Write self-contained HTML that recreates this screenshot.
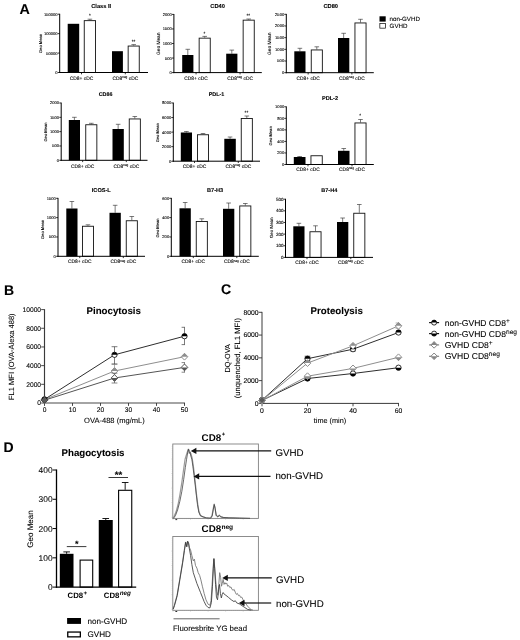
<!DOCTYPE html>
<html lang="en"><head><meta charset="utf-8"><title>Figure</title>
<style>html,body{margin:0;padding:0;background:#fff}svg{display:block}</style></head>
<body>
<svg width="520" height="640" viewBox="0 0 520 640" font-family="Liberation Sans, Arial, sans-serif" text-rendering="geometricPrecision">
<rect width="520" height="640" fill="#fff"/>
<g>
<text x="19.40" y="14.40" font-size="14.3" text-anchor="start" font-weight="bold" fill="#000" stroke="#000" stroke-width="0.08" >A</text>
<text x="4.00" y="294.70" font-size="14" text-anchor="start" font-weight="bold" fill="#000" stroke="#000" stroke-width="0.08" >B</text>
<text x="220.90" y="294.40" font-size="14" text-anchor="start" font-weight="bold" fill="#000" stroke="#000" stroke-width="0.08" >C</text>
<text x="3.40" y="451.60" font-size="14" text-anchor="start" font-weight="bold" fill="#000" stroke="#000" stroke-width="0.08" >D</text>
<rect x="67.70" y="23.80" width="11.50" height="48.70" fill="#000"/>
<line x1="89.90" y1="20.20" x2="89.90" y2="19.20" stroke="#333" stroke-width="0.65" />
<line x1="87.60" y1="19.20" x2="92.20" y2="19.20" stroke="#333" stroke-width="0.65" />
<rect x="84.25" y="20.65" width="11.30" height="51.85" fill="#fff" stroke="#111" stroke-width="0.9"/>
<rect x="112.00" y="51.20" width="10.90" height="21.30" fill="#000"/>
<line x1="133.70" y1="45.60" x2="133.70" y2="44.60" stroke="#333" stroke-width="0.65" />
<line x1="131.40" y1="44.60" x2="136.00" y2="44.60" stroke="#333" stroke-width="0.65" />
<rect x="128.15" y="46.05" width="11.10" height="26.45" fill="#fff" stroke="#111" stroke-width="0.9"/>
<line x1="59.70" y1="13.80" x2="59.70" y2="73.00" stroke="#000" stroke-width="1.0" />
<line x1="59.20" y1="72.50" x2="148.00" y2="72.50" stroke="#000" stroke-width="1.0" />
<line x1="57.80" y1="14.20" x2="59.70" y2="14.20" stroke="#000" stroke-width="0.8" />
<text x="57.60" y="15.65" font-size="4.1" text-anchor="end" font-weight="normal" fill="#000" stroke="#000" stroke-width="0.10" >150000</text>
<line x1="57.80" y1="33.63" x2="59.70" y2="33.63" stroke="#000" stroke-width="0.8" />
<text x="57.60" y="35.08" font-size="4.1" text-anchor="end" font-weight="normal" fill="#000" stroke="#000" stroke-width="0.10" >100000</text>
<line x1="57.80" y1="53.07" x2="59.70" y2="53.07" stroke="#000" stroke-width="0.8" />
<text x="57.60" y="54.52" font-size="4.1" text-anchor="end" font-weight="normal" fill="#000" stroke="#000" stroke-width="0.10" >50000</text>
<line x1="57.80" y1="72.50" x2="59.70" y2="72.50" stroke="#000" stroke-width="0.8" />
<text x="57.60" y="73.95" font-size="4.1" text-anchor="end" font-weight="normal" fill="#000" stroke="#000" stroke-width="0.10" >0</text>
<line x1="81.50" y1="72.50" x2="81.50" y2="74.30" stroke="#000" stroke-width="0.8" />
<line x1="125.30" y1="72.50" x2="125.30" y2="74.30" stroke="#000" stroke-width="0.8" />
<text x="81.50" y="79.50" font-size="4.9" text-anchor="middle" font-weight="normal" fill="#000" stroke="#000" stroke-width="0.10" >CD8+ cDC</text>
<text x="125.30" y="79.50" font-size="4.9" text-anchor="middle" fill="#000" stroke="#000" stroke-width="0.1">CD8<tspan font-size="3.1" dy="-1.7">neg</tspan><tspan dy="1.7"> cDC</tspan></text>
<text x="101.20" y="7.90" font-size="5.7" text-anchor="middle" font-weight="bold" fill="#000" stroke="#000" stroke-width="0.10" >Class II</text>
<text transform="translate(41.90,43.50) rotate(-90)" font-size="4.1" text-anchor="middle" font-weight="normal" fill="#000" stroke="#000" stroke-width="0.10">Geo Mean</text>
<text x="89.90" y="17.20" font-size="4.6" text-anchor="middle" font-weight="normal" fill="#000" stroke="#000" stroke-width="0.10" >*</text>
<text x="133.50" y="42.60" font-size="4.6" text-anchor="middle" font-weight="normal" fill="#000" stroke="#000" stroke-width="0.10" >**</text>
<line x1="187.80" y1="55.00" x2="187.80" y2="49.30" stroke="#333" stroke-width="0.65" />
<line x1="185.50" y1="49.30" x2="190.10" y2="49.30" stroke="#333" stroke-width="0.65" />
<rect x="182.20" y="55.00" width="11.20" height="17.60" fill="#000"/>
<line x1="204.70" y1="37.70" x2="204.70" y2="36.40" stroke="#333" stroke-width="0.65" />
<line x1="202.40" y1="36.40" x2="207.00" y2="36.40" stroke="#333" stroke-width="0.65" />
<rect x="199.15" y="38.15" width="11.10" height="34.45" fill="#fff" stroke="#111" stroke-width="0.9"/>
<line x1="231.80" y1="53.70" x2="231.80" y2="50.10" stroke="#333" stroke-width="0.65" />
<line x1="229.50" y1="50.10" x2="234.10" y2="50.10" stroke="#333" stroke-width="0.65" />
<rect x="226.20" y="53.70" width="11.20" height="18.90" fill="#000"/>
<line x1="248.70" y1="19.70" x2="248.70" y2="19.00" stroke="#333" stroke-width="0.65" />
<line x1="246.40" y1="19.00" x2="251.00" y2="19.00" stroke="#333" stroke-width="0.65" />
<rect x="243.15" y="20.15" width="11.10" height="52.45" fill="#fff" stroke="#111" stroke-width="0.9"/>
<line x1="173.90" y1="14.00" x2="173.90" y2="73.10" stroke="#000" stroke-width="1.0" />
<line x1="173.40" y1="72.60" x2="261.80" y2="72.60" stroke="#000" stroke-width="1.0" />
<line x1="172.00" y1="14.40" x2="173.90" y2="14.40" stroke="#000" stroke-width="0.8" />
<text x="171.80" y="15.85" font-size="4.1" text-anchor="end" font-weight="normal" fill="#000" stroke="#000" stroke-width="0.10" >2000</text>
<line x1="172.00" y1="28.95" x2="173.90" y2="28.95" stroke="#000" stroke-width="0.8" />
<text x="171.80" y="30.40" font-size="4.1" text-anchor="end" font-weight="normal" fill="#000" stroke="#000" stroke-width="0.10" >1500</text>
<line x1="172.00" y1="43.50" x2="173.90" y2="43.50" stroke="#000" stroke-width="0.8" />
<text x="171.80" y="44.95" font-size="4.1" text-anchor="end" font-weight="normal" fill="#000" stroke="#000" stroke-width="0.10" >1000</text>
<line x1="172.00" y1="58.05" x2="173.90" y2="58.05" stroke="#000" stroke-width="0.8" />
<text x="171.80" y="59.50" font-size="4.1" text-anchor="end" font-weight="normal" fill="#000" stroke="#000" stroke-width="0.10" >500</text>
<line x1="172.00" y1="72.60" x2="173.90" y2="72.60" stroke="#000" stroke-width="0.8" />
<text x="171.80" y="74.05" font-size="4.1" text-anchor="end" font-weight="normal" fill="#000" stroke="#000" stroke-width="0.10" >0</text>
<line x1="196.05" y1="72.60" x2="196.05" y2="74.40" stroke="#000" stroke-width="0.8" />
<line x1="240.05" y1="72.60" x2="240.05" y2="74.40" stroke="#000" stroke-width="0.8" />
<text x="196.05" y="79.50" font-size="4.9" text-anchor="middle" font-weight="normal" fill="#000" stroke="#000" stroke-width="0.10" >CD8+ cDC</text>
<text x="240.05" y="79.50" font-size="4.9" text-anchor="middle" fill="#000" stroke="#000" stroke-width="0.1">CD8<tspan font-size="3.1" dy="-1.7">neg</tspan><tspan dy="1.7"> cDC</tspan></text>
<text x="217.60" y="7.90" font-size="5.7" text-anchor="middle" font-weight="bold" fill="#000" stroke="#000" stroke-width="0.10" >CD40</text>
<text transform="translate(159.60,43.80) rotate(-90)" font-size="4.8" text-anchor="middle" font-weight="normal" fill="#000" stroke="#000" stroke-width="0.10">Geo Mean</text>
<text x="204.30" y="34.80" font-size="4.6" text-anchor="middle" font-weight="normal" fill="#000" stroke="#000" stroke-width="0.10" >*</text>
<text x="248.30" y="16.80" font-size="4.6" text-anchor="middle" font-weight="normal" fill="#000" stroke="#000" stroke-width="0.10" >**</text>
<line x1="299.90" y1="51.30" x2="299.90" y2="48.30" stroke="#333" stroke-width="0.65" />
<line x1="297.60" y1="48.30" x2="302.20" y2="48.30" stroke="#333" stroke-width="0.65" />
<rect x="294.30" y="51.30" width="11.20" height="21.40" fill="#000"/>
<line x1="316.80" y1="49.50" x2="316.80" y2="46.80" stroke="#333" stroke-width="0.65" />
<line x1="314.50" y1="46.80" x2="319.10" y2="46.80" stroke="#333" stroke-width="0.65" />
<rect x="311.25" y="49.95" width="11.10" height="22.75" fill="#fff" stroke="#111" stroke-width="0.9"/>
<line x1="343.65" y1="38.00" x2="343.65" y2="33.30" stroke="#333" stroke-width="0.65" />
<line x1="341.35" y1="33.30" x2="345.95" y2="33.30" stroke="#333" stroke-width="0.65" />
<rect x="338.00" y="38.00" width="11.30" height="34.70" fill="#000"/>
<line x1="360.50" y1="22.50" x2="360.50" y2="19.30" stroke="#333" stroke-width="0.65" />
<line x1="358.20" y1="19.30" x2="362.80" y2="19.30" stroke="#333" stroke-width="0.65" />
<rect x="354.95" y="22.95" width="11.10" height="49.75" fill="#fff" stroke="#111" stroke-width="0.9"/>
<line x1="286.30" y1="13.90" x2="286.30" y2="73.20" stroke="#000" stroke-width="1.0" />
<line x1="285.80" y1="72.70" x2="373.80" y2="72.70" stroke="#000" stroke-width="1.0" />
<line x1="284.40" y1="14.30" x2="286.30" y2="14.30" stroke="#000" stroke-width="0.8" />
<text x="284.20" y="15.75" font-size="4.1" text-anchor="end" font-weight="normal" fill="#000" stroke="#000" stroke-width="0.10" >2500</text>
<line x1="284.40" y1="25.98" x2="286.30" y2="25.98" stroke="#000" stroke-width="0.8" />
<text x="284.20" y="27.43" font-size="4.1" text-anchor="end" font-weight="normal" fill="#000" stroke="#000" stroke-width="0.10" >2000</text>
<line x1="284.40" y1="37.66" x2="286.30" y2="37.66" stroke="#000" stroke-width="0.8" />
<text x="284.20" y="39.11" font-size="4.1" text-anchor="end" font-weight="normal" fill="#000" stroke="#000" stroke-width="0.10" >1500</text>
<line x1="284.40" y1="49.34" x2="286.30" y2="49.34" stroke="#000" stroke-width="0.8" />
<text x="284.20" y="50.79" font-size="4.1" text-anchor="end" font-weight="normal" fill="#000" stroke="#000" stroke-width="0.10" >1000</text>
<line x1="284.40" y1="61.02" x2="286.30" y2="61.02" stroke="#000" stroke-width="0.8" />
<text x="284.20" y="62.47" font-size="4.1" text-anchor="end" font-weight="normal" fill="#000" stroke="#000" stroke-width="0.10" >500</text>
<line x1="284.40" y1="72.70" x2="286.30" y2="72.70" stroke="#000" stroke-width="0.8" />
<text x="284.20" y="74.15" font-size="4.1" text-anchor="end" font-weight="normal" fill="#000" stroke="#000" stroke-width="0.10" >0</text>
<line x1="308.15" y1="72.70" x2="308.15" y2="74.50" stroke="#000" stroke-width="0.8" />
<line x1="351.90" y1="72.70" x2="351.90" y2="74.50" stroke="#000" stroke-width="0.8" />
<text x="308.15" y="79.50" font-size="4.9" text-anchor="middle" font-weight="normal" fill="#000" stroke="#000" stroke-width="0.10" >CD8+ cDC</text>
<text x="351.90" y="79.50" font-size="4.9" text-anchor="middle" fill="#000" stroke="#000" stroke-width="0.1">CD8<tspan font-size="3.1" dy="-1.7">neg</tspan><tspan dy="1.7"> cDC</tspan></text>
<text x="330.70" y="7.85" font-size="5.7" text-anchor="middle" font-weight="bold" fill="#000" stroke="#000" stroke-width="0.10" >CD80</text>
<text transform="translate(271.35,43.80) rotate(-90)" font-size="4.8" text-anchor="middle" font-weight="normal" fill="#000" stroke="#000" stroke-width="0.10">Geo Mean</text>
<line x1="74.40" y1="120.00" x2="74.40" y2="117.30" stroke="#333" stroke-width="0.65" />
<line x1="72.10" y1="117.30" x2="76.70" y2="117.30" stroke="#333" stroke-width="0.65" />
<rect x="68.80" y="120.00" width="11.20" height="40.30" fill="#000"/>
<line x1="91.30" y1="124.30" x2="91.30" y2="123.30" stroke="#333" stroke-width="0.65" />
<line x1="89.00" y1="123.30" x2="93.60" y2="123.30" stroke="#333" stroke-width="0.65" />
<rect x="85.75" y="124.75" width="11.10" height="35.55" fill="#fff" stroke="#111" stroke-width="0.9"/>
<line x1="118.15" y1="129.00" x2="118.15" y2="124.30" stroke="#333" stroke-width="0.65" />
<line x1="115.85" y1="124.30" x2="120.45" y2="124.30" stroke="#333" stroke-width="0.65" />
<rect x="112.50" y="129.00" width="11.30" height="31.30" fill="#000"/>
<line x1="134.80" y1="118.50" x2="134.80" y2="116.50" stroke="#333" stroke-width="0.65" />
<line x1="132.50" y1="116.50" x2="137.10" y2="116.50" stroke="#333" stroke-width="0.65" />
<rect x="129.25" y="118.95" width="11.10" height="41.35" fill="#fff" stroke="#111" stroke-width="0.9"/>
<line x1="61.20" y1="102.60" x2="61.20" y2="160.80" stroke="#000" stroke-width="1.0" />
<line x1="60.70" y1="160.30" x2="147.50" y2="160.30" stroke="#000" stroke-width="1.0" />
<line x1="59.30" y1="103.00" x2="61.20" y2="103.00" stroke="#000" stroke-width="0.8" />
<text x="59.10" y="104.45" font-size="4.1" text-anchor="end" font-weight="normal" fill="#000" stroke="#000" stroke-width="0.10" >2000</text>
<line x1="59.30" y1="117.33" x2="61.20" y2="117.33" stroke="#000" stroke-width="0.8" />
<text x="59.10" y="118.78" font-size="4.1" text-anchor="end" font-weight="normal" fill="#000" stroke="#000" stroke-width="0.10" >1500</text>
<line x1="59.30" y1="131.65" x2="61.20" y2="131.65" stroke="#000" stroke-width="0.8" />
<text x="59.10" y="133.10" font-size="4.1" text-anchor="end" font-weight="normal" fill="#000" stroke="#000" stroke-width="0.10" >1000</text>
<line x1="59.30" y1="145.98" x2="61.20" y2="145.98" stroke="#000" stroke-width="0.8" />
<text x="59.10" y="147.43" font-size="4.1" text-anchor="end" font-weight="normal" fill="#000" stroke="#000" stroke-width="0.10" >500</text>
<line x1="59.30" y1="160.30" x2="61.20" y2="160.30" stroke="#000" stroke-width="0.8" />
<text x="59.10" y="161.75" font-size="4.1" text-anchor="end" font-weight="normal" fill="#000" stroke="#000" stroke-width="0.10" >0</text>
<line x1="82.65" y1="160.30" x2="82.65" y2="162.10" stroke="#000" stroke-width="0.8" />
<line x1="126.30" y1="160.30" x2="126.30" y2="162.10" stroke="#000" stroke-width="0.8" />
<text x="82.65" y="167.60" font-size="4.9" text-anchor="middle" font-weight="normal" fill="#000" stroke="#000" stroke-width="0.10" >CD8+ cDC</text>
<text x="126.30" y="167.60" font-size="4.9" text-anchor="middle" fill="#000" stroke="#000" stroke-width="0.1">CD8<tspan font-size="3.1" dy="-1.7">neg</tspan><tspan dy="1.7"> cDC</tspan></text>
<text x="105.60" y="96.30" font-size="5.4" text-anchor="middle" font-weight="bold" fill="#000" stroke="#000" stroke-width="0.10" >CD86</text>
<text transform="translate(46.50,132.00) rotate(-90)" font-size="4.1" text-anchor="middle" font-weight="normal" fill="#000" stroke="#000" stroke-width="0.10">Geo Mean</text>
<line x1="186.40" y1="132.50" x2="186.40" y2="131.50" stroke="#333" stroke-width="0.65" />
<line x1="184.10" y1="131.50" x2="188.70" y2="131.50" stroke="#333" stroke-width="0.65" />
<rect x="180.80" y="132.50" width="11.20" height="28.70" fill="#000"/>
<line x1="203.00" y1="134.30" x2="203.00" y2="133.50" stroke="#333" stroke-width="0.65" />
<line x1="200.70" y1="133.50" x2="205.30" y2="133.50" stroke="#333" stroke-width="0.65" />
<rect x="197.45" y="134.75" width="11.10" height="26.45" fill="#fff" stroke="#111" stroke-width="0.9"/>
<line x1="230.05" y1="138.80" x2="230.05" y2="137.00" stroke="#333" stroke-width="0.65" />
<line x1="227.75" y1="137.00" x2="232.35" y2="137.00" stroke="#333" stroke-width="0.65" />
<rect x="224.30" y="138.80" width="11.50" height="22.40" fill="#000"/>
<line x1="246.80" y1="118.00" x2="246.80" y2="116.00" stroke="#333" stroke-width="0.65" />
<line x1="244.50" y1="116.00" x2="249.10" y2="116.00" stroke="#333" stroke-width="0.65" />
<rect x="241.25" y="118.45" width="11.10" height="42.75" fill="#fff" stroke="#111" stroke-width="0.9"/>
<line x1="173.30" y1="102.60" x2="173.30" y2="161.70" stroke="#000" stroke-width="1.0" />
<line x1="172.80" y1="161.20" x2="260.00" y2="161.20" stroke="#000" stroke-width="1.0" />
<line x1="171.40" y1="103.00" x2="173.30" y2="103.00" stroke="#000" stroke-width="0.8" />
<text x="171.20" y="104.45" font-size="4.1" text-anchor="end" font-weight="normal" fill="#000" stroke="#000" stroke-width="0.10" >8000</text>
<line x1="171.40" y1="117.55" x2="173.30" y2="117.55" stroke="#000" stroke-width="0.8" />
<text x="171.20" y="119.00" font-size="4.1" text-anchor="end" font-weight="normal" fill="#000" stroke="#000" stroke-width="0.10" >6000</text>
<line x1="171.40" y1="132.10" x2="173.30" y2="132.10" stroke="#000" stroke-width="0.8" />
<text x="171.20" y="133.55" font-size="4.1" text-anchor="end" font-weight="normal" fill="#000" stroke="#000" stroke-width="0.10" >4000</text>
<line x1="171.40" y1="146.65" x2="173.30" y2="146.65" stroke="#000" stroke-width="0.8" />
<text x="171.20" y="148.10" font-size="4.1" text-anchor="end" font-weight="normal" fill="#000" stroke="#000" stroke-width="0.10" >2000</text>
<line x1="171.40" y1="161.20" x2="173.30" y2="161.20" stroke="#000" stroke-width="0.8" />
<text x="171.20" y="162.65" font-size="4.1" text-anchor="end" font-weight="normal" fill="#000" stroke="#000" stroke-width="0.10" >0</text>
<line x1="194.50" y1="161.20" x2="194.50" y2="163.00" stroke="#000" stroke-width="0.8" />
<line x1="238.30" y1="161.20" x2="238.30" y2="163.00" stroke="#000" stroke-width="0.8" />
<text x="194.50" y="168.10" font-size="4.9" text-anchor="middle" font-weight="normal" fill="#000" stroke="#000" stroke-width="0.10" >CD8+ cDC</text>
<text x="238.30" y="168.10" font-size="4.9" text-anchor="middle" fill="#000" stroke="#000" stroke-width="0.1">CD8<tspan font-size="3.1" dy="-1.7">neg</tspan><tspan dy="1.7"> cDC</tspan></text>
<text x="216.50" y="96.20" font-size="5.4" text-anchor="middle" font-weight="bold" fill="#000" stroke="#000" stroke-width="0.10" >PDL-1</text>
<text transform="translate(158.90,132.80) rotate(-90)" font-size="4.1" text-anchor="middle" font-weight="normal" fill="#000" stroke="#000" stroke-width="0.10">Geo Mean</text>
<text x="246.40" y="114.20" font-size="4.6" text-anchor="middle" font-weight="normal" fill="#000" stroke="#000" stroke-width="0.10" >**</text>
<line x1="299.65" y1="157.00" x2="299.65" y2="156.50" stroke="#333" stroke-width="0.65" />
<line x1="297.35" y1="156.50" x2="301.95" y2="156.50" stroke="#333" stroke-width="0.65" />
<rect x="293.80" y="157.00" width="11.70" height="7.50" fill="#000"/>
<rect x="310.95" y="155.75" width="11.30" height="8.75" fill="#fff" stroke="#111" stroke-width="0.9"/>
<line x1="343.75" y1="150.80" x2="343.75" y2="148.50" stroke="#333" stroke-width="0.65" />
<line x1="341.45" y1="148.50" x2="346.05" y2="148.50" stroke="#333" stroke-width="0.65" />
<rect x="338.00" y="150.80" width="11.50" height="13.70" fill="#000"/>
<line x1="360.50" y1="122.50" x2="360.50" y2="119.50" stroke="#333" stroke-width="0.65" />
<line x1="358.20" y1="119.50" x2="362.80" y2="119.50" stroke="#333" stroke-width="0.65" />
<rect x="354.95" y="122.95" width="11.10" height="41.55" fill="#fff" stroke="#111" stroke-width="0.9"/>
<line x1="286.30" y1="106.40" x2="286.30" y2="165.00" stroke="#000" stroke-width="1.0" />
<line x1="285.80" y1="164.50" x2="373.80" y2="164.50" stroke="#000" stroke-width="1.0" />
<line x1="284.40" y1="106.80" x2="286.30" y2="106.80" stroke="#000" stroke-width="0.8" />
<text x="284.20" y="108.25" font-size="4.1" text-anchor="end" font-weight="normal" fill="#000" stroke="#000" stroke-width="0.10" >1000</text>
<line x1="284.40" y1="118.34" x2="286.30" y2="118.34" stroke="#000" stroke-width="0.8" />
<text x="284.20" y="119.79" font-size="4.1" text-anchor="end" font-weight="normal" fill="#000" stroke="#000" stroke-width="0.10" >800</text>
<line x1="284.40" y1="129.88" x2="286.30" y2="129.88" stroke="#000" stroke-width="0.8" />
<text x="284.20" y="131.33" font-size="4.1" text-anchor="end" font-weight="normal" fill="#000" stroke="#000" stroke-width="0.10" >600</text>
<line x1="284.40" y1="141.42" x2="286.30" y2="141.42" stroke="#000" stroke-width="0.8" />
<text x="284.20" y="142.87" font-size="4.1" text-anchor="end" font-weight="normal" fill="#000" stroke="#000" stroke-width="0.10" >400</text>
<line x1="284.40" y1="152.96" x2="286.30" y2="152.96" stroke="#000" stroke-width="0.8" />
<text x="284.20" y="154.41" font-size="4.1" text-anchor="end" font-weight="normal" fill="#000" stroke="#000" stroke-width="0.10" >200</text>
<line x1="284.40" y1="164.50" x2="286.30" y2="164.50" stroke="#000" stroke-width="0.8" />
<text x="284.20" y="165.95" font-size="4.1" text-anchor="end" font-weight="normal" fill="#000" stroke="#000" stroke-width="0.10" >0</text>
<line x1="308.00" y1="164.50" x2="308.00" y2="166.30" stroke="#000" stroke-width="0.8" />
<line x1="352.00" y1="164.50" x2="352.00" y2="166.30" stroke="#000" stroke-width="0.8" />
<text x="308.00" y="170.80" font-size="4.9" text-anchor="middle" font-weight="normal" fill="#000" stroke="#000" stroke-width="0.10" >CD8+ cDC</text>
<text x="352.00" y="170.80" font-size="4.9" text-anchor="middle" fill="#000" stroke="#000" stroke-width="0.1">CD8<tspan font-size="3.1" dy="-1.7">neg</tspan><tspan dy="1.7"> cDC</tspan></text>
<text x="330.00" y="100.20" font-size="5.6" text-anchor="middle" font-weight="bold" fill="#000" stroke="#000" stroke-width="0.10" >PDL-2</text>
<text transform="translate(272.10,135.90) rotate(-90)" font-size="4.1" text-anchor="middle" font-weight="normal" fill="#000" stroke="#000" stroke-width="0.10">Geo Mean</text>
<text x="360.20" y="117.30" font-size="4.6" text-anchor="middle" font-weight="normal" fill="#000" stroke="#000" stroke-width="0.10" >*</text>
<line x1="71.90" y1="208.50" x2="71.90" y2="201.50" stroke="#333" stroke-width="0.65" />
<line x1="69.60" y1="201.50" x2="74.20" y2="201.50" stroke="#333" stroke-width="0.65" />
<rect x="66.30" y="208.50" width="11.20" height="47.80" fill="#000"/>
<line x1="87.95" y1="225.80" x2="87.95" y2="224.80" stroke="#333" stroke-width="0.65" />
<line x1="85.65" y1="224.80" x2="90.25" y2="224.80" stroke="#333" stroke-width="0.65" />
<rect x="82.45" y="226.25" width="11.00" height="30.05" fill="#fff" stroke="#111" stroke-width="0.9"/>
<line x1="115.15" y1="212.80" x2="115.15" y2="205.30" stroke="#333" stroke-width="0.65" />
<line x1="112.85" y1="205.30" x2="117.45" y2="205.30" stroke="#333" stroke-width="0.65" />
<rect x="109.50" y="212.80" width="11.30" height="43.50" fill="#000"/>
<line x1="131.80" y1="220.30" x2="131.80" y2="216.50" stroke="#333" stroke-width="0.65" />
<line x1="129.50" y1="216.50" x2="134.10" y2="216.50" stroke="#333" stroke-width="0.65" />
<rect x="126.25" y="220.75" width="11.10" height="35.55" fill="#fff" stroke="#111" stroke-width="0.9"/>
<line x1="58.00" y1="197.90" x2="58.00" y2="256.80" stroke="#000" stroke-width="1.0" />
<line x1="57.50" y1="256.30" x2="145.00" y2="256.30" stroke="#000" stroke-width="1.0" />
<line x1="56.10" y1="198.30" x2="58.00" y2="198.30" stroke="#000" stroke-width="0.8" />
<text x="55.90" y="199.75" font-size="4.1" text-anchor="end" font-weight="normal" fill="#000" stroke="#000" stroke-width="0.10" >1500</text>
<line x1="56.10" y1="217.63" x2="58.00" y2="217.63" stroke="#000" stroke-width="0.8" />
<text x="55.90" y="219.08" font-size="4.1" text-anchor="end" font-weight="normal" fill="#000" stroke="#000" stroke-width="0.10" >1000</text>
<line x1="56.10" y1="236.97" x2="58.00" y2="236.97" stroke="#000" stroke-width="0.8" />
<text x="55.90" y="238.42" font-size="4.1" text-anchor="end" font-weight="normal" fill="#000" stroke="#000" stroke-width="0.10" >500</text>
<line x1="56.10" y1="256.30" x2="58.00" y2="256.30" stroke="#000" stroke-width="0.8" />
<text x="55.90" y="257.75" font-size="4.1" text-anchor="end" font-weight="normal" fill="#000" stroke="#000" stroke-width="0.10" >0</text>
<line x1="79.75" y1="256.30" x2="79.75" y2="258.10" stroke="#000" stroke-width="0.8" />
<line x1="123.30" y1="256.30" x2="123.30" y2="258.10" stroke="#000" stroke-width="0.8" />
<text x="79.75" y="263.40" font-size="4.9" text-anchor="middle" font-weight="normal" fill="#000" stroke="#000" stroke-width="0.10" >CD8+ cDC</text>
<text x="123.30" y="263.40" font-size="4.9" text-anchor="middle" fill="#000" stroke="#000" stroke-width="0.1">CD8<tspan font-size="3.1" dy="-1.7">neg</tspan><tspan dy="1.7"> cDC</tspan></text>
<text x="101.30" y="192.40" font-size="5.6" text-anchor="middle" font-weight="bold" fill="#000" stroke="#000" stroke-width="0.10" >ICOS-L</text>
<text transform="translate(43.60,229.50) rotate(-90)" font-size="4.1" text-anchor="middle" font-weight="normal" fill="#000" stroke="#000" stroke-width="0.10">Geo Mean</text>
<line x1="185.15" y1="208.30" x2="185.15" y2="202.50" stroke="#333" stroke-width="0.65" />
<line x1="182.85" y1="202.50" x2="187.45" y2="202.50" stroke="#333" stroke-width="0.65" />
<rect x="179.50" y="208.30" width="11.30" height="48.00" fill="#000"/>
<line x1="201.80" y1="221.00" x2="201.80" y2="218.80" stroke="#333" stroke-width="0.65" />
<line x1="199.50" y1="218.80" x2="204.10" y2="218.80" stroke="#333" stroke-width="0.65" />
<rect x="196.25" y="221.45" width="11.10" height="34.85" fill="#fff" stroke="#111" stroke-width="0.9"/>
<line x1="228.65" y1="208.80" x2="228.65" y2="203.00" stroke="#333" stroke-width="0.65" />
<line x1="226.35" y1="203.00" x2="230.95" y2="203.00" stroke="#333" stroke-width="0.65" />
<rect x="223.00" y="208.80" width="11.30" height="47.50" fill="#000"/>
<line x1="245.30" y1="205.50" x2="245.30" y2="203.50" stroke="#333" stroke-width="0.65" />
<line x1="243.00" y1="203.50" x2="247.60" y2="203.50" stroke="#333" stroke-width="0.65" />
<rect x="239.75" y="205.95" width="11.10" height="50.35" fill="#fff" stroke="#111" stroke-width="0.9"/>
<line x1="171.30" y1="197.90" x2="171.30" y2="256.80" stroke="#000" stroke-width="1.0" />
<line x1="170.80" y1="256.30" x2="258.80" y2="256.30" stroke="#000" stroke-width="1.0" />
<line x1="169.40" y1="198.30" x2="171.30" y2="198.30" stroke="#000" stroke-width="0.8" />
<text x="169.20" y="199.75" font-size="4.1" text-anchor="end" font-weight="normal" fill="#000" stroke="#000" stroke-width="0.10" >600</text>
<line x1="169.40" y1="217.63" x2="171.30" y2="217.63" stroke="#000" stroke-width="0.8" />
<text x="169.20" y="219.08" font-size="4.1" text-anchor="end" font-weight="normal" fill="#000" stroke="#000" stroke-width="0.10" >400</text>
<line x1="169.40" y1="236.97" x2="171.30" y2="236.97" stroke="#000" stroke-width="0.8" />
<text x="169.20" y="238.42" font-size="4.1" text-anchor="end" font-weight="normal" fill="#000" stroke="#000" stroke-width="0.10" >200</text>
<line x1="169.40" y1="256.30" x2="171.30" y2="256.30" stroke="#000" stroke-width="0.8" />
<text x="169.20" y="257.75" font-size="4.1" text-anchor="end" font-weight="normal" fill="#000" stroke="#000" stroke-width="0.10" >0</text>
<line x1="193.30" y1="256.30" x2="193.30" y2="258.10" stroke="#000" stroke-width="0.8" />
<line x1="236.80" y1="256.30" x2="236.80" y2="258.10" stroke="#000" stroke-width="0.8" />
<text x="193.30" y="263.40" font-size="4.9" text-anchor="middle" font-weight="normal" fill="#000" stroke="#000" stroke-width="0.10" >CD8+ cDC</text>
<text x="236.80" y="263.40" font-size="4.9" text-anchor="middle" fill="#000" stroke="#000" stroke-width="0.1">CD8<tspan font-size="3.1" dy="-1.7">neg</tspan><tspan dy="1.7"> cDC</tspan></text>
<text x="215.10" y="192.40" font-size="5.6" text-anchor="middle" font-weight="bold" fill="#000" stroke="#000" stroke-width="0.10" >B7-H3</text>
<text transform="translate(159.30,228.00) rotate(-90)" font-size="4.1" text-anchor="middle" font-weight="normal" fill="#000" stroke="#000" stroke-width="0.10">Geo Mean</text>
<line x1="298.90" y1="226.30" x2="298.90" y2="223.30" stroke="#333" stroke-width="0.65" />
<line x1="296.60" y1="223.30" x2="301.20" y2="223.30" stroke="#333" stroke-width="0.65" />
<rect x="293.30" y="226.30" width="11.20" height="31.10" fill="#000"/>
<line x1="315.50" y1="231.30" x2="315.50" y2="225.80" stroke="#333" stroke-width="0.65" />
<line x1="313.20" y1="225.80" x2="317.80" y2="225.80" stroke="#333" stroke-width="0.65" />
<rect x="309.95" y="231.75" width="11.10" height="25.65" fill="#fff" stroke="#111" stroke-width="0.9"/>
<line x1="342.65" y1="222.00" x2="342.65" y2="218.00" stroke="#333" stroke-width="0.65" />
<line x1="340.35" y1="218.00" x2="344.95" y2="218.00" stroke="#333" stroke-width="0.65" />
<rect x="337.00" y="222.00" width="11.30" height="35.40" fill="#000"/>
<line x1="359.30" y1="212.80" x2="359.30" y2="204.50" stroke="#333" stroke-width="0.65" />
<line x1="357.00" y1="204.50" x2="361.60" y2="204.50" stroke="#333" stroke-width="0.65" />
<rect x="353.75" y="213.25" width="11.10" height="44.15" fill="#fff" stroke="#111" stroke-width="0.9"/>
<line x1="285.50" y1="198.80" x2="285.50" y2="257.90" stroke="#000" stroke-width="1.0" />
<line x1="285.00" y1="257.40" x2="373.00" y2="257.40" stroke="#000" stroke-width="1.0" />
<line x1="283.60" y1="199.20" x2="285.50" y2="199.20" stroke="#000" stroke-width="0.8" />
<text x="283.40" y="200.65" font-size="4.5" text-anchor="end" font-weight="normal" fill="#000" stroke="#000" stroke-width="0.10" >500</text>
<line x1="283.60" y1="210.84" x2="285.50" y2="210.84" stroke="#000" stroke-width="0.8" />
<text x="283.40" y="212.29" font-size="4.5" text-anchor="end" font-weight="normal" fill="#000" stroke="#000" stroke-width="0.10" >400</text>
<line x1="283.60" y1="222.48" x2="285.50" y2="222.48" stroke="#000" stroke-width="0.8" />
<text x="283.40" y="223.93" font-size="4.5" text-anchor="end" font-weight="normal" fill="#000" stroke="#000" stroke-width="0.10" >300</text>
<line x1="283.60" y1="234.12" x2="285.50" y2="234.12" stroke="#000" stroke-width="0.8" />
<text x="283.40" y="235.57" font-size="4.5" text-anchor="end" font-weight="normal" fill="#000" stroke="#000" stroke-width="0.10" >200</text>
<line x1="283.60" y1="245.76" x2="285.50" y2="245.76" stroke="#000" stroke-width="0.8" />
<text x="283.40" y="247.21" font-size="4.5" text-anchor="end" font-weight="normal" fill="#000" stroke="#000" stroke-width="0.10" >100</text>
<line x1="283.60" y1="257.40" x2="285.50" y2="257.40" stroke="#000" stroke-width="0.8" />
<text x="283.40" y="258.85" font-size="4.5" text-anchor="end" font-weight="normal" fill="#000" stroke="#000" stroke-width="0.10" >0</text>
<line x1="307.00" y1="257.40" x2="307.00" y2="259.20" stroke="#000" stroke-width="0.8" />
<line x1="350.80" y1="257.40" x2="350.80" y2="259.20" stroke="#000" stroke-width="0.8" />
<text x="307.00" y="263.90" font-size="4.9" text-anchor="middle" font-weight="normal" fill="#000" stroke="#000" stroke-width="0.10" >CD8+ cDC</text>
<text x="350.80" y="263.90" font-size="4.9" text-anchor="middle" fill="#000" stroke="#000" stroke-width="0.1">CD8<tspan font-size="3.1" dy="-1.7">neg</tspan><tspan dy="1.7"> cDC</tspan></text>
<text x="329.30" y="192.40" font-size="5.5" text-anchor="middle" font-weight="bold" fill="#000" stroke="#000" stroke-width="0.10" >B7-H4</text>
<text transform="translate(273.10,227.80) rotate(-90)" font-size="4.4" text-anchor="middle" font-weight="normal" fill="#000" stroke="#000" stroke-width="0.10">Geo Mean</text>
<rect x="379.5" y="16.3" width="6.2" height="5.3" fill="#000"/>
<rect x="379.85" y="23.55" width="5.5" height="4.6" fill="#fff" stroke="#000" stroke-width="0.7"/>
<text x="389.60" y="21.30" font-size="6.2" text-anchor="start" font-weight="normal" fill="#000" stroke="#000" stroke-width="0.10" >non-GVHD</text>
<text x="389.60" y="27.90" font-size="6.2" text-anchor="start" font-weight="normal" fill="#000" stroke="#000" stroke-width="0.10" >GVHD</text>
<line x1="44.50" y1="309.20" x2="44.50" y2="403.60" stroke="#3a3a3a" stroke-width="1.15" />
<line x1="43.95" y1="403.00" x2="185.00" y2="403.00" stroke="#4a4a4a" stroke-width="1.2" />
<line x1="41.20" y1="309.60" x2="44.50" y2="309.60" stroke="#333" stroke-width="0.9" />
<text x="41.10" y="312.00" font-size="6.7" text-anchor="end" font-weight="normal" fill="#000" stroke="#000" stroke-width="0.10" >10000</text>
<line x1="41.20" y1="328.28" x2="44.50" y2="328.28" stroke="#333" stroke-width="0.9" />
<text x="41.10" y="330.68" font-size="6.7" text-anchor="end" font-weight="normal" fill="#000" stroke="#000" stroke-width="0.10" >8000</text>
<line x1="41.20" y1="346.96" x2="44.50" y2="346.96" stroke="#333" stroke-width="0.9" />
<text x="41.10" y="349.36" font-size="6.7" text-anchor="end" font-weight="normal" fill="#000" stroke="#000" stroke-width="0.10" >6000</text>
<line x1="41.20" y1="365.64" x2="44.50" y2="365.64" stroke="#333" stroke-width="0.9" />
<text x="41.10" y="368.04" font-size="6.7" text-anchor="end" font-weight="normal" fill="#000" stroke="#000" stroke-width="0.10" >4000</text>
<line x1="41.20" y1="384.32" x2="44.50" y2="384.32" stroke="#333" stroke-width="0.9" />
<text x="41.10" y="386.72" font-size="6.7" text-anchor="end" font-weight="normal" fill="#000" stroke="#000" stroke-width="0.10" >2000</text>
<line x1="41.20" y1="403.00" x2="44.50" y2="403.00" stroke="#333" stroke-width="0.9" />
<text x="41.10" y="405.40" font-size="6.7" text-anchor="end" font-weight="normal" fill="#000" stroke="#000" stroke-width="0.10" >0</text>
<line x1="44.50" y1="403.00" x2="44.50" y2="405.90" stroke="#333" stroke-width="0.9" />
<text x="44.50" y="412.00" font-size="6.7" text-anchor="middle" font-weight="normal" fill="#000" stroke="#000" stroke-width="0.10" >0</text>
<line x1="72.50" y1="403.00" x2="72.50" y2="405.90" stroke="#333" stroke-width="0.9" />
<text x="72.50" y="412.00" font-size="6.7" text-anchor="middle" font-weight="normal" fill="#000" stroke="#000" stroke-width="0.10" >10</text>
<line x1="100.50" y1="403.00" x2="100.50" y2="405.90" stroke="#333" stroke-width="0.9" />
<text x="100.50" y="412.00" font-size="6.7" text-anchor="middle" font-weight="normal" fill="#000" stroke="#000" stroke-width="0.10" >20</text>
<line x1="128.50" y1="403.00" x2="128.50" y2="405.90" stroke="#333" stroke-width="0.9" />
<text x="128.50" y="412.00" font-size="6.7" text-anchor="middle" font-weight="normal" fill="#000" stroke="#000" stroke-width="0.10" >30</text>
<line x1="156.50" y1="403.00" x2="156.50" y2="405.90" stroke="#333" stroke-width="0.9" />
<text x="156.50" y="412.00" font-size="6.7" text-anchor="middle" font-weight="normal" fill="#000" stroke="#000" stroke-width="0.10" >40</text>
<line x1="184.50" y1="403.00" x2="184.50" y2="405.90" stroke="#333" stroke-width="0.9" />
<text x="184.50" y="412.00" font-size="6.7" text-anchor="middle" font-weight="normal" fill="#000" stroke="#000" stroke-width="0.10" >50</text>
<text x="113.70" y="313.90" font-size="9.7" text-anchor="middle" font-weight="bold" fill="#000" stroke="#000" stroke-width="0.08" >Pinocytosis</text>
<text x="114.40" y="422.70" font-size="7.55" text-anchor="middle" font-weight="normal" fill="#000" stroke="#000" stroke-width="0.08" >OVA-488 (mg/mL)</text>
<text transform="translate(14.20,356.70) rotate(-90)" font-size="7.55" text-anchor="middle" font-weight="normal" fill="#000" stroke="#000" stroke-width="0.08">FL1 MFI (OVA-Alexa 488)</text>
<line x1="114.50" y1="364.20" x2="114.50" y2="377.50" stroke="#8e8e8e" stroke-width="0.7" />
<line x1="111.60" y1="364.20" x2="117.40" y2="364.20" stroke="#8e8e8e" stroke-width="0.7" />
<line x1="111.60" y1="377.50" x2="117.40" y2="377.50" stroke="#8e8e8e" stroke-width="0.7" />
<polyline points="44.50,399.60 114.50,371.00 184.50,356.70" fill="none" stroke="#8e8e8e" stroke-width="1.0" stroke-linejoin="round"/>
<path d="M41.20,399.60 L44.50,396.20 L47.80,399.60 L44.50,403.00 Z" fill="#fff" stroke="#8e8e8e" stroke-width="1.0"/>
<path d="M41.20,399.60 L44.50,396.20 L47.80,399.60 Z" fill="#8e8e8e"/>
<path d="M111.20,371.00 L114.50,367.60 L117.80,371.00 L114.50,374.40 Z" fill="#fff" stroke="#8e8e8e" stroke-width="1.0"/>
<path d="M111.20,371.00 L114.50,367.60 L117.80,371.00 Z" fill="#8e8e8e"/>
<path d="M181.20,356.70 L184.50,353.30 L187.80,356.70 L184.50,360.10 Z" fill="#fff" stroke="#8e8e8e" stroke-width="1.0"/>
<path d="M181.20,356.70 L184.50,353.30 L187.80,356.70 Z" fill="#8e8e8e"/>
<line x1="114.50" y1="373.20" x2="114.50" y2="383.00" stroke="#555555" stroke-width="0.7" />
<line x1="111.60" y1="373.20" x2="117.40" y2="373.20" stroke="#555555" stroke-width="0.7" />
<line x1="111.60" y1="383.00" x2="117.40" y2="383.00" stroke="#555555" stroke-width="0.7" />
<line x1="184.50" y1="362.60" x2="184.50" y2="372.20" stroke="#555555" stroke-width="0.7" />
<line x1="181.60" y1="362.60" x2="185.00" y2="362.60" stroke="#555555" stroke-width="0.7" />
<line x1="181.60" y1="372.20" x2="185.00" y2="372.20" stroke="#555555" stroke-width="0.7" />
<polyline points="44.50,400.20 114.50,378.00 184.50,367.40" fill="none" stroke="#555555" stroke-width="1.0" stroke-linejoin="round"/>
<path d="M41.20,400.20 L44.50,396.80 L47.80,400.20 L44.50,403.60 Z" fill="#fff" stroke="#555555" stroke-width="1.0"/>
<path d="M41.20,400.20 L44.50,403.60 L47.80,400.20 Z" fill="#555555"/>
<path d="M111.20,378.00 L114.50,374.60 L117.80,378.00 L114.50,381.40 Z" fill="#fff" stroke="#555555" stroke-width="1.0"/>
<path d="M111.20,378.00 L114.50,381.40 L117.80,378.00 Z" fill="#555555"/>
<path d="M181.20,367.40 L184.50,364.00 L187.80,367.40 L184.50,370.80 Z" fill="#fff" stroke="#555555" stroke-width="1.0"/>
<path d="M181.20,367.40 L184.50,370.80 L187.80,367.40 Z" fill="#555555"/>
<line x1="114.50" y1="346.70" x2="114.50" y2="364.00" stroke="#444" stroke-width="0.7" />
<line x1="111.60" y1="346.70" x2="117.40" y2="346.70" stroke="#444" stroke-width="0.7" />
<line x1="111.60" y1="364.00" x2="117.40" y2="364.00" stroke="#444" stroke-width="0.7" />
<line x1="184.50" y1="327.30" x2="184.50" y2="344.60" stroke="#444" stroke-width="0.7" />
<line x1="181.60" y1="327.30" x2="185.00" y2="327.30" stroke="#444" stroke-width="0.7" />
<line x1="181.60" y1="344.60" x2="185.00" y2="344.60" stroke="#444" stroke-width="0.7" />
<polyline points="44.50,399.40 114.50,354.80 184.50,336.20" fill="none" stroke="#2e2e2e" stroke-width="1.0" stroke-linejoin="round"/>
<circle cx="44.50" cy="399.40" r="2.65" fill="#fff" stroke="#000" stroke-width="0.8"/>
<path d="M41.85,399.40 A2.65,2.65 0 0 1 47.15,399.40 Z" fill="#000"/>
<circle cx="114.50" cy="354.80" r="2.65" fill="#fff" stroke="#000" stroke-width="0.8"/>
<path d="M111.85,354.80 A2.65,2.65 0 0 1 117.15,354.80 Z" fill="#000"/>
<circle cx="184.50" cy="336.20" r="2.65" fill="#fff" stroke="#000" stroke-width="0.8"/>
<path d="M181.85,336.20 A2.65,2.65 0 0 1 187.15,336.20 Z" fill="#000"/>
<path d="M41.50,399.8 L44.50,396.6 L47.50,399.8 L44.50,403 Z" fill="#5a5a5a"/>
<line x1="262.00" y1="311.90" x2="262.00" y2="403.90" stroke="#3a3a3a" stroke-width="1.0" />
<line x1="261.50" y1="403.40" x2="399.00" y2="403.40" stroke="#3a3a3a" stroke-width="1.0" />
<line x1="258.70" y1="312.30" x2="262.00" y2="312.30" stroke="#333" stroke-width="0.9" />
<text x="258.60" y="314.70" font-size="6.8" text-anchor="end" font-weight="normal" fill="#000" stroke="#000" stroke-width="0.10" >8000</text>
<line x1="258.70" y1="335.07" x2="262.00" y2="335.07" stroke="#333" stroke-width="0.9" />
<text x="258.60" y="337.47" font-size="6.8" text-anchor="end" font-weight="normal" fill="#000" stroke="#000" stroke-width="0.10" >6000</text>
<line x1="258.70" y1="357.85" x2="262.00" y2="357.85" stroke="#333" stroke-width="0.9" />
<text x="258.60" y="360.25" font-size="6.8" text-anchor="end" font-weight="normal" fill="#000" stroke="#000" stroke-width="0.10" >4000</text>
<line x1="258.70" y1="380.62" x2="262.00" y2="380.62" stroke="#333" stroke-width="0.9" />
<text x="258.60" y="383.02" font-size="6.8" text-anchor="end" font-weight="normal" fill="#000" stroke="#000" stroke-width="0.10" >2000</text>
<line x1="258.70" y1="403.40" x2="262.00" y2="403.40" stroke="#333" stroke-width="0.9" />
<text x="258.60" y="405.80" font-size="6.8" text-anchor="end" font-weight="normal" fill="#000" stroke="#000" stroke-width="0.10" >0</text>
<line x1="262.00" y1="403.40" x2="262.00" y2="406.30" stroke="#333" stroke-width="0.9" />
<text x="262.00" y="413.00" font-size="6.8" text-anchor="middle" font-weight="normal" fill="#000" stroke="#000" stroke-width="0.10" >0</text>
<line x1="307.50" y1="403.40" x2="307.50" y2="406.30" stroke="#333" stroke-width="0.9" />
<text x="307.50" y="413.00" font-size="6.8" text-anchor="middle" font-weight="normal" fill="#000" stroke="#000" stroke-width="0.10" >20</text>
<line x1="353.00" y1="403.40" x2="353.00" y2="406.30" stroke="#333" stroke-width="0.9" />
<text x="353.00" y="413.00" font-size="6.8" text-anchor="middle" font-weight="normal" fill="#000" stroke="#000" stroke-width="0.10" >40</text>
<line x1="398.50" y1="403.40" x2="398.50" y2="406.30" stroke="#333" stroke-width="0.9" />
<text x="398.50" y="413.00" font-size="6.8" text-anchor="middle" font-weight="normal" fill="#000" stroke="#000" stroke-width="0.10" >60</text>
<text x="336.70" y="314.10" font-size="9.7" text-anchor="middle" font-weight="bold" fill="#000" stroke="#000" stroke-width="0.08" >Proteolysis</text>
<text x="330.00" y="422.90" font-size="7.3" text-anchor="middle" font-weight="normal" fill="#000" stroke="#000" stroke-width="0.08" >time (min)</text>
<text transform="translate(229.90,358.30) rotate(-90)" font-size="7.3" text-anchor="middle" font-weight="normal" fill="#000" stroke="#000" stroke-width="0.08">DQ-OVA</text>
<text transform="translate(239.70,358.20) rotate(-90)" font-size="7.7" text-anchor="middle" font-weight="normal" fill="#000" stroke="#000" stroke-width="0.08">(unquenched, FL1 MFI)</text>
<polyline points="262.00,400.40 307.50,378.50 353.00,373.50 398.50,367.70" fill="none" stroke="#2e2e2e" stroke-width="1.0" stroke-linejoin="round"/>
<circle cx="262.00" cy="400.40" r="2.65" fill="#fff" stroke="#000" stroke-width="0.8"/>
<path d="M259.35,400.40 A2.65,2.65 0 0 0 264.65,400.40 Z" fill="#000"/>
<circle cx="307.50" cy="378.50" r="2.65" fill="#fff" stroke="#000" stroke-width="0.8"/>
<path d="M304.85,378.50 A2.65,2.65 0 0 0 310.15,378.50 Z" fill="#000"/>
<circle cx="353.00" cy="373.50" r="2.65" fill="#fff" stroke="#000" stroke-width="0.8"/>
<path d="M350.35,373.50 A2.65,2.65 0 0 0 355.65,373.50 Z" fill="#000"/>
<circle cx="398.50" cy="367.70" r="2.65" fill="#fff" stroke="#000" stroke-width="0.8"/>
<path d="M395.85,367.70 A2.65,2.65 0 0 0 401.15,367.70 Z" fill="#000"/>
<polyline points="262.00,400.60 307.50,376.20 353.00,368.40 398.50,357.30" fill="none" stroke="#8e8e8e" stroke-width="1.0" stroke-linejoin="round"/>
<path d="M258.70,400.60 L262.00,397.20 L265.30,400.60 L262.00,404.00 Z" fill="#fff" stroke="#8e8e8e" stroke-width="1.0"/>
<path d="M258.70,400.60 L262.00,404.00 L265.30,400.60 Z" fill="#8e8e8e"/>
<path d="M304.20,376.20 L307.50,372.80 L310.80,376.20 L307.50,379.60 Z" fill="#fff" stroke="#8e8e8e" stroke-width="1.0"/>
<path d="M304.20,376.20 L307.50,379.60 L310.80,376.20 Z" fill="#8e8e8e"/>
<path d="M349.70,368.40 L353.00,365.00 L356.30,368.40 L353.00,371.80 Z" fill="#fff" stroke="#8e8e8e" stroke-width="1.0"/>
<path d="M349.70,368.40 L353.00,371.80 L356.30,368.40 Z" fill="#8e8e8e"/>
<path d="M395.20,357.30 L398.50,353.90 L401.80,357.30 L398.50,360.70 Z" fill="#fff" stroke="#8e8e8e" stroke-width="1.0"/>
<path d="M395.20,357.30 L398.50,360.70 L401.80,357.30 Z" fill="#8e8e8e"/>
<line x1="307.50" y1="356.20" x2="307.50" y2="361.20" stroke="#444" stroke-width="0.7" />
<line x1="304.60" y1="356.20" x2="310.40" y2="356.20" stroke="#444" stroke-width="0.7" />
<line x1="304.60" y1="361.20" x2="310.40" y2="361.20" stroke="#444" stroke-width="0.7" />
<line x1="353.00" y1="347.50" x2="353.00" y2="351.00" stroke="#444" stroke-width="0.7" />
<line x1="350.10" y1="347.50" x2="355.90" y2="347.50" stroke="#444" stroke-width="0.7" />
<line x1="350.10" y1="351.00" x2="355.90" y2="351.00" stroke="#444" stroke-width="0.7" />
<polyline points="262.00,400.20 307.50,358.70 353.00,349.20 398.50,332.50" fill="none" stroke="#2e2e2e" stroke-width="1.0" stroke-linejoin="round"/>
<circle cx="262.00" cy="400.20" r="2.65" fill="#fff" stroke="#000" stroke-width="0.8"/>
<path d="M259.35,400.20 A2.65,2.65 0 0 1 264.65,400.20 Z" fill="#000"/>
<circle cx="307.50" cy="358.70" r="2.65" fill="#fff" stroke="#000" stroke-width="0.8"/>
<path d="M304.85,358.70 A2.65,2.65 0 0 1 310.15,358.70 Z" fill="#000"/>
<circle cx="353.00" cy="349.20" r="2.65" fill="#fff" stroke="#000" stroke-width="0.8"/>
<path d="M350.35,349.20 A2.65,2.65 0 0 1 355.65,349.20 Z" fill="#000"/>
<circle cx="398.50" cy="332.50" r="2.65" fill="#fff" stroke="#000" stroke-width="0.8"/>
<path d="M395.85,332.50 A2.65,2.65 0 0 1 401.15,332.50 Z" fill="#000"/>
<line x1="398.50" y1="323.00" x2="398.50" y2="328.40" stroke="#8e8e8e" stroke-width="0.7" />
<line x1="395.60" y1="323.00" x2="399.00" y2="323.00" stroke="#8e8e8e" stroke-width="0.7" />
<line x1="395.60" y1="328.40" x2="399.00" y2="328.40" stroke="#8e8e8e" stroke-width="0.7" />
<polyline points="262.00,400.40 307.50,363.10 353.00,345.80 398.50,325.80" fill="none" stroke="#8e8e8e" stroke-width="1.0" stroke-linejoin="round"/>
<path d="M258.70,400.40 L262.00,397.00 L265.30,400.40 L262.00,403.80 Z" fill="#fff" stroke="#8e8e8e" stroke-width="1.0"/>
<path d="M258.70,400.40 L262.00,397.00 L265.30,400.40 Z" fill="#8e8e8e"/>
<path d="M304.20,363.10 L307.50,359.70 L310.80,363.10 L307.50,366.50 Z" fill="#fff" stroke="#8e8e8e" stroke-width="1.0"/>
<path d="M304.20,363.10 L307.50,359.70 L310.80,363.10 Z" fill="#8e8e8e"/>
<path d="M349.70,345.80 L353.00,342.40 L356.30,345.80 L353.00,349.20 Z" fill="#fff" stroke="#8e8e8e" stroke-width="1.0"/>
<path d="M349.70,345.80 L353.00,342.40 L356.30,345.80 Z" fill="#8e8e8e"/>
<path d="M395.20,325.80 L398.50,322.40 L401.80,325.80 L398.50,329.20 Z" fill="#fff" stroke="#8e8e8e" stroke-width="1.0"/>
<path d="M395.20,325.80 L398.50,322.40 L401.80,325.80 Z" fill="#8e8e8e"/>
<path d="M259.00,400.2 L262.00,397 L265.00,400.2 L262.00,403.4 Z" fill="#5a5a5a"/>
<line x1="429.10" y1="322.60" x2="439.10" y2="322.60" stroke="#111" stroke-width="1.2" />
<circle cx="434.10" cy="322.60" r="2.5" fill="#fff" stroke="#000" stroke-width="0.8"/>
<path d="M431.60,322.60 A2.5,2.5 0 0 1 436.60,322.60 Z" fill="#000"/>
<text x="444.7" y="326.20" font-size="8.55" fill="#000" stroke="#000" stroke-width="0.08">non-GVHD CD8<tspan font-size="6.6" dy="-3.1">+</tspan></text>
<line x1="429.10" y1="333.60" x2="439.10" y2="333.60" stroke="#111" stroke-width="1.2" />
<circle cx="434.10" cy="333.60" r="2.5" fill="#fff" stroke="#000" stroke-width="0.8"/>
<path d="M431.60,333.60 A2.5,2.5 0 0 0 436.60,333.60 Z" fill="#000"/>
<text x="444.7" y="337.10" font-size="8.55" fill="#000" stroke="#000" stroke-width="0.08">non-GVHD CD8<tspan font-size="6.6" dy="-3.1">neg</tspan></text>
<line x1="429.10" y1="344.90" x2="439.10" y2="344.90" stroke="#858585" stroke-width="1.2" />
<path d="M430.90,344.90 L434.10,341.60 L437.30,344.90 L434.10,348.20 Z" fill="#fff" stroke="#858585" stroke-width="1.0"/>
<path d="M430.90,344.90 L434.10,341.60 L437.30,344.90 Z" fill="#858585"/>
<text x="444.7" y="348.10" font-size="8.55" fill="#000" stroke="#000" stroke-width="0.08">GVHD CD8<tspan font-size="6.6" dy="-3.1">+</tspan></text>
<line x1="429.10" y1="356.30" x2="439.10" y2="356.30" stroke="#858585" stroke-width="1.2" />
<path d="M430.90,356.30 L434.10,353.00 L437.30,356.30 L434.10,359.60 Z" fill="#fff" stroke="#858585" stroke-width="1.0"/>
<path d="M430.90,356.30 L434.10,359.60 L437.30,356.30 Z" fill="#858585"/>
<text x="444.7" y="359.00" font-size="8.55" fill="#000" stroke="#000" stroke-width="0.08">GVHD CD8<tspan font-size="6.6" dy="-3.1">neg</tspan></text>
<line x1="66.65" y1="553.80" x2="66.65" y2="551.90" stroke="#000" stroke-width="0.9" />
<line x1="63.35" y1="551.90" x2="69.95" y2="551.90" stroke="#000" stroke-width="0.9" />
<rect x="59.80" y="553.80" width="13.70" height="33.30" fill="#000"/>
<rect x="80.10" y="560.10" width="12.60" height="27.00" fill="#fff" stroke="#000" stroke-width="1.1"/>
<line x1="105.75" y1="520.00" x2="105.75" y2="518.50" stroke="#000" stroke-width="0.9" />
<line x1="102.45" y1="518.50" x2="109.05" y2="518.50" stroke="#000" stroke-width="0.9" />
<rect x="98.75" y="520.00" width="14.00" height="67.10" fill="#000"/>
<line x1="125.17" y1="489.80" x2="125.17" y2="482.50" stroke="#000" stroke-width="0.9" />
<line x1="121.88" y1="482.50" x2="128.47" y2="482.50" stroke="#000" stroke-width="0.9" />
<rect x="118.60" y="490.30" width="13.15" height="96.80" fill="#fff" stroke="#000" stroke-width="1.1"/>
<line x1="56.50" y1="469.50" x2="56.50" y2="587.75" stroke="#000" stroke-width="1.3" />
<line x1="55.85" y1="587.10" x2="136.20" y2="587.10" stroke="#000" stroke-width="1.2" />
<line x1="52.70" y1="470.00" x2="56.50" y2="470.00" stroke="#000" stroke-width="1.0" />
<text x="52.60" y="473.00" font-size="8.4" text-anchor="end" font-weight="normal" fill="#000" stroke="#000" stroke-width="0.08" >400</text>
<line x1="52.70" y1="499.27" x2="56.50" y2="499.27" stroke="#000" stroke-width="1.0" />
<text x="52.60" y="502.27" font-size="8.4" text-anchor="end" font-weight="normal" fill="#000" stroke="#000" stroke-width="0.08" >300</text>
<line x1="52.70" y1="528.55" x2="56.50" y2="528.55" stroke="#000" stroke-width="1.0" />
<text x="52.60" y="531.55" font-size="8.4" text-anchor="end" font-weight="normal" fill="#000" stroke="#000" stroke-width="0.08" >200</text>
<line x1="52.70" y1="557.83" x2="56.50" y2="557.83" stroke="#000" stroke-width="1.0" />
<text x="52.60" y="560.83" font-size="8.4" text-anchor="end" font-weight="normal" fill="#000" stroke="#000" stroke-width="0.08" >100</text>
<line x1="52.70" y1="587.10" x2="56.50" y2="587.10" stroke="#000" stroke-width="1.0" />
<text x="52.60" y="590.10" font-size="8.4" text-anchor="end" font-weight="normal" fill="#000" stroke="#000" stroke-width="0.08" >0</text>
<text x="93.00" y="456.00" font-size="9.7" text-anchor="middle" font-weight="bold" fill="#000" stroke="#000" stroke-width="0.08" >Phagocytosis</text>
<text transform="translate(33.40,529.00) rotate(-90)" font-size="8" text-anchor="middle" font-weight="normal" fill="#000" stroke="#000" stroke-width="0.08">Geo Mean</text>
<line x1="66.80" y1="546.60" x2="86.40" y2="546.60" stroke="#222" stroke-width="0.9" />
<text x="76.70" y="546.60" font-size="9.2" text-anchor="middle" font-weight="bold" fill="#000" stroke="#000" stroke-width="0.08" >*</text>
<line x1="108.50" y1="477.50" x2="128.00" y2="477.50" stroke="#222" stroke-width="0.9" />
<text x="118.60" y="477.60" font-size="9.6" text-anchor="middle" font-weight="bold" fill="#000" stroke="#000" stroke-width="0.08" >**</text>
<text x="67.6" y="597.7" font-size="7.8" font-weight="bold" fill="#000">CD8<tspan font-size="6.2" dy="-2.7" dx="0.3">+</tspan></text>
<text x="103.8" y="597.8" font-size="7.8" font-weight="bold" fill="#000">CD8<tspan font-size="6.3" dy="-2.7" dx="0.3" font-style="italic">neg</tspan></text>
<rect x="67.1" y="618.0" width="13.9" height="5.9" fill="#000"/>
<rect x="67.75" y="632.05" width="12.6" height="4.8" fill="#fff" stroke="#000" stroke-width="1.3"/>
<text x="87.40" y="624.00" font-size="8.15" text-anchor="start" font-weight="normal" fill="#000" stroke="#000" stroke-width="0.08" >non-GVHD</text>
<text x="87.40" y="637.20" font-size="8.15" text-anchor="start" font-weight="normal" fill="#000" stroke="#000" stroke-width="0.08" >GVHD</text>
<text x="201.6" y="440.5" font-size="9.8" font-weight="bold" fill="#000">CD8<tspan font-size="5.8" dy="-4.2" dx="0.6">+</tspan></text>
<text x="201.6" y="532.2" font-size="9.8" font-weight="bold" fill="#000">CD8<tspan font-size="6.6" dy="-3.3" dx="0.2">neg</tspan></text>
<rect x="172.8" y="444.0" width="85.6" height="74.4" fill="none" stroke="#808080" stroke-width="0.9"/>
<rect x="172.8" y="536.5" width="85.6" height="73.8" fill="none" stroke="#808080" stroke-width="0.9"/>
<polyline points="172.23,518.46 174.15,516.28 176.08,511.79 178.00,504.74 179.92,494.49 181.85,482.31 183.51,470.13 185.05,459.23 187.23,452.18 188.26,449.23 189.15,450.26 190.05,452.18 191.08,454.10 192.10,457.95 193.13,464.36 194.28,473.33 195.31,482.95 196.46,493.85 197.74,504.10 199.03,511.79 200.69,515.64 203.26,516.92 206.46,517.95 210.31,518.21 211.97,515.64 213.13,509.23 214.15,504.10 215.05,507.95 216.08,515.00 217.74,516.67 219.28,515.13 220.82,516.67 223.13,517.31 228.00,517.69 239.79,518.08 250.05,518.33" fill="none" stroke="#9a9a9a" stroke-width="1.2" stroke-linejoin="round"/>
<polyline points="173.38,518.46 175.44,515.64 177.62,509.87 179.79,501.54 181.85,491.28 183.64,479.74 185.31,467.56 186.59,459.23 187.62,452.82 188.51,449.23 189.28,453.46 190.05,452.18 190.82,456.03 191.85,459.23 192.87,466.28 194.03,475.26 195.18,484.87 196.33,495.13 197.49,504.74 198.77,512.05 200.31,515.64 203.26,516.92 206.46,517.95 210.56,518.33 212.23,515.90 213.26,509.87 214.28,504.49 215.18,508.59 216.21,515.38 217.74,516.92 219.28,515.51 220.82,516.92 223.13,517.44 228.00,517.82 239.79,518.21 250.05,518.46" fill="none" stroke="#444" stroke-width="0.8" stroke-linejoin="round"/>
<polyline points="173.06,608.83 174.33,605.21 177.04,595.27 179.75,579.00 182.46,562.73 184.27,550.08 185.53,541.94 186.62,546.46 187.52,541.04 188.43,542.85 189.33,547.37 190.60,550.08 191.86,555.50 193.31,560.92 194.39,559.11 195.48,565.44 196.92,568.15 198.19,572.67 199.63,575.38 200.90,579.90 202.35,586.23 204.15,593.46 205.96,599.79 208.13,604.31 209.94,605.21 211.02,600.69 212.11,584.42 213.19,566.35 213.91,558.21 214.64,566.35 215.72,580.81 216.81,591.65 217.89,595.27 218.80,584.42 219.70,572.67 220.60,577.19 221.51,586.23 222.23,583.52 223.13,579.36 224.04,584.42 224.94,582.61 225.85,584.06 226.75,583.16 227.65,586.23 228.74,585.51 229.82,587.50 230.91,586.95 231.99,589.48 233.08,590.21 234.16,589.48 235.25,592.20 236.33,594.36 237.41,593.46 238.50,595.63 239.58,595.27 240.67,597.44 241.75,597.08 242.84,599.25 243.92,601.60 245.73,603.40 247.54,606.11 249.34,607.92 251.15,609.73 252.96,610.09" fill="none" stroke="#777" stroke-width="0.9" stroke-linejoin="round"/>
<polyline points="173.24,609.19 174.51,605.57 177.22,595.63 179.93,579.36 182.64,563.09 184.45,550.44 185.72,542.30 186.80,546.82 187.70,541.40 188.61,543.21 189.33,548.63 190.60,555.50 191.86,564.54 193.31,572.67 195.11,578.10 196.92,583.52 198.73,588.04 200.54,592.56 202.35,597.08 204.15,601.60 205.96,605.21 208.13,607.56 209.94,607.92 211.38,602.50 212.47,586.23 213.37,568.15 213.91,559.11 214.64,568.15 215.54,584.42 216.45,597.08 217.53,599.79 218.61,589.85 219.52,584.42 220.42,593.46 221.33,597.98 222.23,594.36 223.13,592.56 224.40,594.36 225.85,595.27 228.56,597.44 231.27,599.79 233.98,601.60 235.25,600.69 236.69,602.86 239.40,603.95 242.11,605.75 244.83,607.56 247.54,609.37 251.15,610.09" fill="none" stroke="#3a3a3a" stroke-width="0.85" stroke-linejoin="round"/>
<line x1="173.00" y1="518.40" x2="173.00" y2="519.70" stroke="#888" stroke-width="0.35" />
<line x1="174.95" y1="518.40" x2="174.95" y2="519.10" stroke="#888" stroke-width="0.35" />
<line x1="176.90" y1="518.40" x2="176.90" y2="519.10" stroke="#888" stroke-width="0.35" />
<line x1="178.85" y1="518.40" x2="178.85" y2="519.10" stroke="#888" stroke-width="0.35" />
<line x1="180.80" y1="518.40" x2="180.80" y2="519.10" stroke="#888" stroke-width="0.35" />
<line x1="182.75" y1="518.40" x2="182.75" y2="519.10" stroke="#888" stroke-width="0.35" />
<line x1="184.70" y1="518.40" x2="184.70" y2="519.10" stroke="#888" stroke-width="0.35" />
<line x1="186.65" y1="518.40" x2="186.65" y2="519.10" stroke="#888" stroke-width="0.35" />
<line x1="188.60" y1="518.40" x2="188.60" y2="519.10" stroke="#888" stroke-width="0.35" />
<line x1="190.55" y1="518.40" x2="190.55" y2="519.70" stroke="#888" stroke-width="0.35" />
<line x1="192.50" y1="518.40" x2="192.50" y2="519.10" stroke="#888" stroke-width="0.35" />
<line x1="194.45" y1="518.40" x2="194.45" y2="519.10" stroke="#888" stroke-width="0.35" />
<line x1="196.40" y1="518.40" x2="196.40" y2="519.10" stroke="#888" stroke-width="0.35" />
<line x1="198.35" y1="518.40" x2="198.35" y2="519.10" stroke="#888" stroke-width="0.35" />
<line x1="200.30" y1="518.40" x2="200.30" y2="519.10" stroke="#888" stroke-width="0.35" />
<line x1="202.25" y1="518.40" x2="202.25" y2="519.10" stroke="#888" stroke-width="0.35" />
<line x1="204.20" y1="518.40" x2="204.20" y2="519.10" stroke="#888" stroke-width="0.35" />
<line x1="206.15" y1="518.40" x2="206.15" y2="519.10" stroke="#888" stroke-width="0.35" />
<line x1="208.10" y1="518.40" x2="208.10" y2="519.70" stroke="#888" stroke-width="0.35" />
<line x1="210.05" y1="518.40" x2="210.05" y2="519.10" stroke="#888" stroke-width="0.35" />
<line x1="212.00" y1="518.40" x2="212.00" y2="519.10" stroke="#888" stroke-width="0.35" />
<line x1="213.95" y1="518.40" x2="213.95" y2="519.10" stroke="#888" stroke-width="0.35" />
<line x1="215.90" y1="518.40" x2="215.90" y2="519.10" stroke="#888" stroke-width="0.35" />
<line x1="217.85" y1="518.40" x2="217.85" y2="519.10" stroke="#888" stroke-width="0.35" />
<line x1="219.80" y1="518.40" x2="219.80" y2="519.10" stroke="#888" stroke-width="0.35" />
<line x1="221.75" y1="518.40" x2="221.75" y2="519.10" stroke="#888" stroke-width="0.35" />
<line x1="223.70" y1="518.40" x2="223.70" y2="519.10" stroke="#888" stroke-width="0.35" />
<line x1="225.65" y1="518.40" x2="225.65" y2="519.70" stroke="#888" stroke-width="0.35" />
<line x1="227.60" y1="518.40" x2="227.60" y2="519.10" stroke="#888" stroke-width="0.35" />
<line x1="229.55" y1="518.40" x2="229.55" y2="519.10" stroke="#888" stroke-width="0.35" />
<line x1="231.50" y1="518.40" x2="231.50" y2="519.10" stroke="#888" stroke-width="0.35" />
<line x1="233.45" y1="518.40" x2="233.45" y2="519.10" stroke="#888" stroke-width="0.35" />
<line x1="235.40" y1="518.40" x2="235.40" y2="519.10" stroke="#888" stroke-width="0.35" />
<line x1="237.35" y1="518.40" x2="237.35" y2="519.10" stroke="#888" stroke-width="0.35" />
<line x1="239.30" y1="518.40" x2="239.30" y2="519.10" stroke="#888" stroke-width="0.35" />
<line x1="241.25" y1="518.40" x2="241.25" y2="519.10" stroke="#888" stroke-width="0.35" />
<line x1="243.20" y1="518.40" x2="243.20" y2="519.70" stroke="#888" stroke-width="0.35" />
<line x1="245.15" y1="518.40" x2="245.15" y2="519.10" stroke="#888" stroke-width="0.35" />
<line x1="247.10" y1="518.40" x2="247.10" y2="519.10" stroke="#888" stroke-width="0.35" />
<line x1="249.05" y1="518.40" x2="249.05" y2="519.10" stroke="#888" stroke-width="0.35" />
<line x1="251.00" y1="518.40" x2="251.00" y2="519.10" stroke="#888" stroke-width="0.35" />
<line x1="252.95" y1="518.40" x2="252.95" y2="519.10" stroke="#888" stroke-width="0.35" />
<line x1="254.90" y1="518.40" x2="254.90" y2="519.10" stroke="#888" stroke-width="0.35" />
<line x1="256.85" y1="518.40" x2="256.85" y2="519.10" stroke="#888" stroke-width="0.35" />
<line x1="175.40" y1="519.60" x2="177.20" y2="519.60" stroke="#111" stroke-width="0.9" />
<line x1="173.00" y1="610.30" x2="173.00" y2="611.60" stroke="#888" stroke-width="0.35" />
<line x1="174.95" y1="610.30" x2="174.95" y2="611.00" stroke="#888" stroke-width="0.35" />
<line x1="176.90" y1="610.30" x2="176.90" y2="611.00" stroke="#888" stroke-width="0.35" />
<line x1="178.85" y1="610.30" x2="178.85" y2="611.00" stroke="#888" stroke-width="0.35" />
<line x1="180.80" y1="610.30" x2="180.80" y2="611.00" stroke="#888" stroke-width="0.35" />
<line x1="182.75" y1="610.30" x2="182.75" y2="611.00" stroke="#888" stroke-width="0.35" />
<line x1="184.70" y1="610.30" x2="184.70" y2="611.00" stroke="#888" stroke-width="0.35" />
<line x1="186.65" y1="610.30" x2="186.65" y2="611.00" stroke="#888" stroke-width="0.35" />
<line x1="188.60" y1="610.30" x2="188.60" y2="611.00" stroke="#888" stroke-width="0.35" />
<line x1="190.55" y1="610.30" x2="190.55" y2="611.60" stroke="#888" stroke-width="0.35" />
<line x1="192.50" y1="610.30" x2="192.50" y2="611.00" stroke="#888" stroke-width="0.35" />
<line x1="194.45" y1="610.30" x2="194.45" y2="611.00" stroke="#888" stroke-width="0.35" />
<line x1="196.40" y1="610.30" x2="196.40" y2="611.00" stroke="#888" stroke-width="0.35" />
<line x1="198.35" y1="610.30" x2="198.35" y2="611.00" stroke="#888" stroke-width="0.35" />
<line x1="200.30" y1="610.30" x2="200.30" y2="611.00" stroke="#888" stroke-width="0.35" />
<line x1="202.25" y1="610.30" x2="202.25" y2="611.00" stroke="#888" stroke-width="0.35" />
<line x1="204.20" y1="610.30" x2="204.20" y2="611.00" stroke="#888" stroke-width="0.35" />
<line x1="206.15" y1="610.30" x2="206.15" y2="611.00" stroke="#888" stroke-width="0.35" />
<line x1="208.10" y1="610.30" x2="208.10" y2="611.60" stroke="#888" stroke-width="0.35" />
<line x1="210.05" y1="610.30" x2="210.05" y2="611.00" stroke="#888" stroke-width="0.35" />
<line x1="212.00" y1="610.30" x2="212.00" y2="611.00" stroke="#888" stroke-width="0.35" />
<line x1="213.95" y1="610.30" x2="213.95" y2="611.00" stroke="#888" stroke-width="0.35" />
<line x1="215.90" y1="610.30" x2="215.90" y2="611.00" stroke="#888" stroke-width="0.35" />
<line x1="217.85" y1="610.30" x2="217.85" y2="611.00" stroke="#888" stroke-width="0.35" />
<line x1="219.80" y1="610.30" x2="219.80" y2="611.00" stroke="#888" stroke-width="0.35" />
<line x1="221.75" y1="610.30" x2="221.75" y2="611.00" stroke="#888" stroke-width="0.35" />
<line x1="223.70" y1="610.30" x2="223.70" y2="611.00" stroke="#888" stroke-width="0.35" />
<line x1="225.65" y1="610.30" x2="225.65" y2="611.60" stroke="#888" stroke-width="0.35" />
<line x1="227.60" y1="610.30" x2="227.60" y2="611.00" stroke="#888" stroke-width="0.35" />
<line x1="229.55" y1="610.30" x2="229.55" y2="611.00" stroke="#888" stroke-width="0.35" />
<line x1="231.50" y1="610.30" x2="231.50" y2="611.00" stroke="#888" stroke-width="0.35" />
<line x1="233.45" y1="610.30" x2="233.45" y2="611.00" stroke="#888" stroke-width="0.35" />
<line x1="235.40" y1="610.30" x2="235.40" y2="611.00" stroke="#888" stroke-width="0.35" />
<line x1="237.35" y1="610.30" x2="237.35" y2="611.00" stroke="#888" stroke-width="0.35" />
<line x1="239.30" y1="610.30" x2="239.30" y2="611.00" stroke="#888" stroke-width="0.35" />
<line x1="241.25" y1="610.30" x2="241.25" y2="611.00" stroke="#888" stroke-width="0.35" />
<line x1="243.20" y1="610.30" x2="243.20" y2="611.60" stroke="#888" stroke-width="0.35" />
<line x1="245.15" y1="610.30" x2="245.15" y2="611.00" stroke="#888" stroke-width="0.35" />
<line x1="247.10" y1="610.30" x2="247.10" y2="611.00" stroke="#888" stroke-width="0.35" />
<line x1="249.05" y1="610.30" x2="249.05" y2="611.00" stroke="#888" stroke-width="0.35" />
<line x1="251.00" y1="610.30" x2="251.00" y2="611.00" stroke="#888" stroke-width="0.35" />
<line x1="252.95" y1="610.30" x2="252.95" y2="611.00" stroke="#888" stroke-width="0.35" />
<line x1="254.90" y1="610.30" x2="254.90" y2="611.00" stroke="#888" stroke-width="0.35" />
<line x1="256.85" y1="610.30" x2="256.85" y2="611.00" stroke="#888" stroke-width="0.35" />
<line x1="175.40" y1="611.50" x2="177.20" y2="611.50" stroke="#111" stroke-width="0.9" />
<line x1="171.80" y1="446.48" x2="172.40" y2="446.48" stroke="#999" stroke-width="0.35" />
<line x1="171.80" y1="448.56" x2="172.40" y2="448.56" stroke="#999" stroke-width="0.35" />
<line x1="171.80" y1="450.64" x2="172.40" y2="450.64" stroke="#999" stroke-width="0.35" />
<line x1="171.80" y1="452.72" x2="172.40" y2="452.72" stroke="#999" stroke-width="0.35" />
<line x1="171.80" y1="454.80" x2="172.40" y2="454.80" stroke="#999" stroke-width="0.35" />
<line x1="171.80" y1="456.88" x2="172.40" y2="456.88" stroke="#999" stroke-width="0.35" />
<line x1="171.30" y1="458.96" x2="172.40" y2="458.96" stroke="#999" stroke-width="0.35" />
<line x1="171.80" y1="461.04" x2="172.40" y2="461.04" stroke="#999" stroke-width="0.35" />
<line x1="171.80" y1="463.12" x2="172.40" y2="463.12" stroke="#999" stroke-width="0.35" />
<line x1="171.80" y1="465.20" x2="172.40" y2="465.20" stroke="#999" stroke-width="0.35" />
<line x1="171.80" y1="467.28" x2="172.40" y2="467.28" stroke="#999" stroke-width="0.35" />
<line x1="171.80" y1="469.36" x2="172.40" y2="469.36" stroke="#999" stroke-width="0.35" />
<line x1="171.80" y1="471.44" x2="172.40" y2="471.44" stroke="#999" stroke-width="0.35" />
<line x1="171.30" y1="473.52" x2="172.40" y2="473.52" stroke="#999" stroke-width="0.35" />
<line x1="171.80" y1="475.60" x2="172.40" y2="475.60" stroke="#999" stroke-width="0.35" />
<line x1="171.80" y1="477.68" x2="172.40" y2="477.68" stroke="#999" stroke-width="0.35" />
<line x1="171.80" y1="479.76" x2="172.40" y2="479.76" stroke="#999" stroke-width="0.35" />
<line x1="171.80" y1="481.84" x2="172.40" y2="481.84" stroke="#999" stroke-width="0.35" />
<line x1="171.80" y1="483.92" x2="172.40" y2="483.92" stroke="#999" stroke-width="0.35" />
<line x1="171.80" y1="486.00" x2="172.40" y2="486.00" stroke="#999" stroke-width="0.35" />
<line x1="171.30" y1="488.08" x2="172.40" y2="488.08" stroke="#999" stroke-width="0.35" />
<line x1="171.80" y1="490.16" x2="172.40" y2="490.16" stroke="#999" stroke-width="0.35" />
<line x1="171.80" y1="492.24" x2="172.40" y2="492.24" stroke="#999" stroke-width="0.35" />
<line x1="171.80" y1="494.32" x2="172.40" y2="494.32" stroke="#999" stroke-width="0.35" />
<line x1="171.80" y1="496.40" x2="172.40" y2="496.40" stroke="#999" stroke-width="0.35" />
<line x1="171.80" y1="498.48" x2="172.40" y2="498.48" stroke="#999" stroke-width="0.35" />
<line x1="171.80" y1="500.56" x2="172.40" y2="500.56" stroke="#999" stroke-width="0.35" />
<line x1="171.30" y1="502.64" x2="172.40" y2="502.64" stroke="#999" stroke-width="0.35" />
<line x1="171.80" y1="504.72" x2="172.40" y2="504.72" stroke="#999" stroke-width="0.35" />
<line x1="171.80" y1="506.80" x2="172.40" y2="506.80" stroke="#999" stroke-width="0.35" />
<line x1="171.80" y1="508.88" x2="172.40" y2="508.88" stroke="#999" stroke-width="0.35" />
<line x1="171.80" y1="510.96" x2="172.40" y2="510.96" stroke="#999" stroke-width="0.35" />
<line x1="171.80" y1="513.04" x2="172.40" y2="513.04" stroke="#999" stroke-width="0.35" />
<line x1="171.80" y1="515.12" x2="172.40" y2="515.12" stroke="#999" stroke-width="0.35" />
<line x1="171.30" y1="517.20" x2="172.40" y2="517.20" stroke="#999" stroke-width="0.35" />
<line x1="171.80" y1="538.58" x2="172.40" y2="538.58" stroke="#999" stroke-width="0.35" />
<line x1="171.80" y1="540.66" x2="172.40" y2="540.66" stroke="#999" stroke-width="0.35" />
<line x1="171.80" y1="542.74" x2="172.40" y2="542.74" stroke="#999" stroke-width="0.35" />
<line x1="171.80" y1="544.82" x2="172.40" y2="544.82" stroke="#999" stroke-width="0.35" />
<line x1="171.80" y1="546.90" x2="172.40" y2="546.90" stroke="#999" stroke-width="0.35" />
<line x1="171.80" y1="548.98" x2="172.40" y2="548.98" stroke="#999" stroke-width="0.35" />
<line x1="171.30" y1="551.06" x2="172.40" y2="551.06" stroke="#999" stroke-width="0.35" />
<line x1="171.80" y1="553.14" x2="172.40" y2="553.14" stroke="#999" stroke-width="0.35" />
<line x1="171.80" y1="555.22" x2="172.40" y2="555.22" stroke="#999" stroke-width="0.35" />
<line x1="171.80" y1="557.30" x2="172.40" y2="557.30" stroke="#999" stroke-width="0.35" />
<line x1="171.80" y1="559.38" x2="172.40" y2="559.38" stroke="#999" stroke-width="0.35" />
<line x1="171.80" y1="561.46" x2="172.40" y2="561.46" stroke="#999" stroke-width="0.35" />
<line x1="171.80" y1="563.54" x2="172.40" y2="563.54" stroke="#999" stroke-width="0.35" />
<line x1="171.30" y1="565.62" x2="172.40" y2="565.62" stroke="#999" stroke-width="0.35" />
<line x1="171.80" y1="567.70" x2="172.40" y2="567.70" stroke="#999" stroke-width="0.35" />
<line x1="171.80" y1="569.78" x2="172.40" y2="569.78" stroke="#999" stroke-width="0.35" />
<line x1="171.80" y1="571.86" x2="172.40" y2="571.86" stroke="#999" stroke-width="0.35" />
<line x1="171.80" y1="573.94" x2="172.40" y2="573.94" stroke="#999" stroke-width="0.35" />
<line x1="171.80" y1="576.02" x2="172.40" y2="576.02" stroke="#999" stroke-width="0.35" />
<line x1="171.80" y1="578.10" x2="172.40" y2="578.10" stroke="#999" stroke-width="0.35" />
<line x1="171.30" y1="580.18" x2="172.40" y2="580.18" stroke="#999" stroke-width="0.35" />
<line x1="171.80" y1="582.26" x2="172.40" y2="582.26" stroke="#999" stroke-width="0.35" />
<line x1="171.80" y1="584.34" x2="172.40" y2="584.34" stroke="#999" stroke-width="0.35" />
<line x1="171.80" y1="586.42" x2="172.40" y2="586.42" stroke="#999" stroke-width="0.35" />
<line x1="171.80" y1="588.50" x2="172.40" y2="588.50" stroke="#999" stroke-width="0.35" />
<line x1="171.80" y1="590.58" x2="172.40" y2="590.58" stroke="#999" stroke-width="0.35" />
<line x1="171.80" y1="592.66" x2="172.40" y2="592.66" stroke="#999" stroke-width="0.35" />
<line x1="171.30" y1="594.74" x2="172.40" y2="594.74" stroke="#999" stroke-width="0.35" />
<line x1="171.80" y1="596.82" x2="172.40" y2="596.82" stroke="#999" stroke-width="0.35" />
<line x1="171.80" y1="598.90" x2="172.40" y2="598.90" stroke="#999" stroke-width="0.35" />
<line x1="171.80" y1="600.98" x2="172.40" y2="600.98" stroke="#999" stroke-width="0.35" />
<line x1="171.80" y1="603.06" x2="172.40" y2="603.06" stroke="#999" stroke-width="0.35" />
<line x1="171.80" y1="605.14" x2="172.40" y2="605.14" stroke="#999" stroke-width="0.35" />
<line x1="171.80" y1="607.22" x2="172.40" y2="607.22" stroke="#999" stroke-width="0.35" />
<line x1="171.30" y1="609.30" x2="172.40" y2="609.30" stroke="#999" stroke-width="0.35" />
<line x1="193.80" y1="450.90" x2="271.20" y2="450.90" stroke="#111" stroke-width="1.2" />
<path d="M190.80,450.90 L196.40,447.70 L196.40,454.10 Z" fill="#111"/>
<line x1="196.60" y1="476.40" x2="270.50" y2="476.40" stroke="#111" stroke-width="1.2" />
<path d="M193.60,476.40 L199.20,473.20 L199.20,479.60 Z" fill="#111"/>
<line x1="225.20" y1="577.90" x2="271.80" y2="577.90" stroke="#111" stroke-width="1.2" />
<path d="M222.20,577.90 L227.80,574.70 L227.80,581.10 Z" fill="#111"/>
<line x1="241.90" y1="603.00" x2="271.20" y2="603.00" stroke="#111" stroke-width="1.2" />
<path d="M238.90,603.00 L244.50,599.80 L244.50,606.20 Z" fill="#111"/>
<text x="275.40" y="456.10" font-size="9.75" text-anchor="start" font-weight="normal" fill="#000" stroke="#000" stroke-width="0.08" >GVHD</text>
<text x="275.40" y="479.40" font-size="9.75" text-anchor="start" font-weight="normal" fill="#000" stroke="#000" stroke-width="0.08" >non-GVHD</text>
<text x="276.00" y="583.40" font-size="9.75" text-anchor="start" font-weight="normal" fill="#000" stroke="#000" stroke-width="0.08" >GVHD</text>
<text x="276.00" y="606.60" font-size="9.75" text-anchor="start" font-weight="normal" fill="#000" stroke="#000" stroke-width="0.08" >non-GVHD</text>
<line x1="173.50" y1="618.80" x2="219.60" y2="618.80" stroke="#666" stroke-width="1.0" />
<text x="173.00" y="630.80" font-size="7.8" text-anchor="start" font-weight="normal" fill="#000" stroke="#000" stroke-width="0.08" >Fluoresbrite YG bead</text>
</g></svg>
</body></html>
